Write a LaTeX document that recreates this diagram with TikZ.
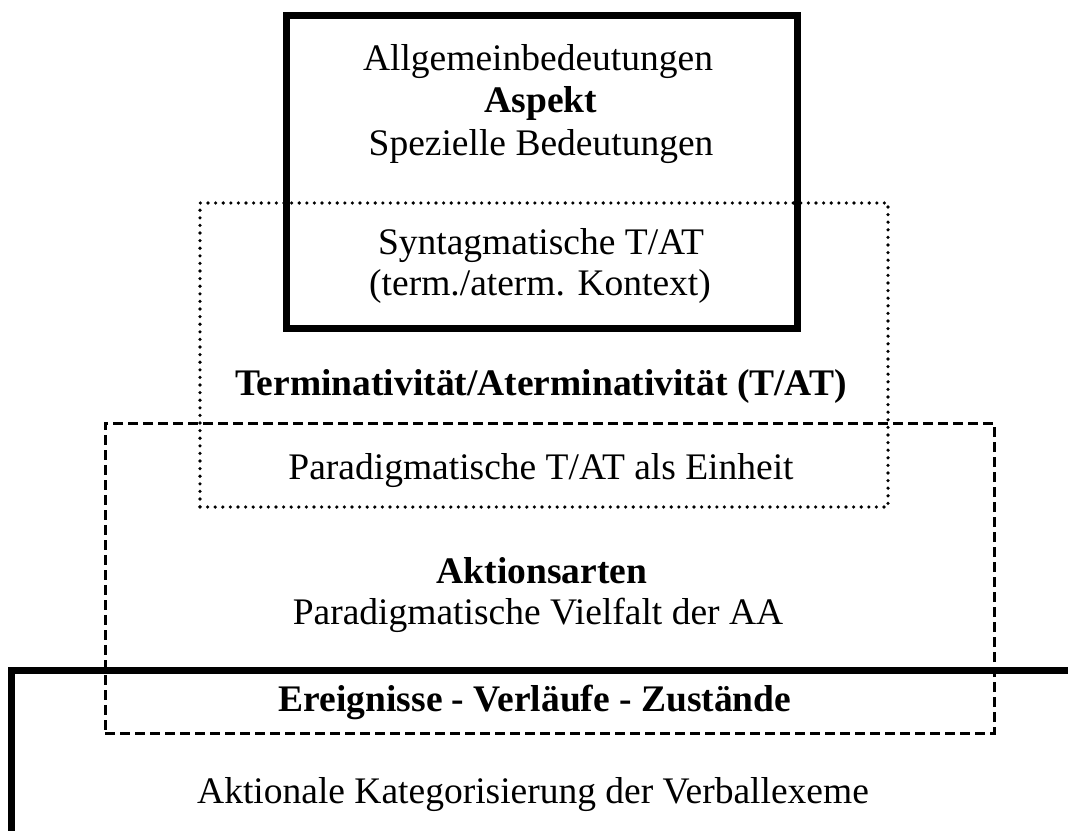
\documentclass[tikz,border=0pt]{standalone}
\usepackage{fontspec}
\setmainfont{Liberation Serif}
\begin{document}
\begin{tikzpicture}[x=1pt,y=-1pt,
  txt/.style={anchor=base,inner sep=0pt,font=\fontsize{37.5}{45}\selectfont},
  btxt/.style={txt,font=\fontsize{37.5}{45}\selectfont\bfseries},
  thickbox/.style={draw,line width=7pt,inner sep=0pt},
  dotbox/.style={draw,line width=3.6pt,line cap=round,dash pattern=on 0pt off 7.6pt,inner sep=0pt},
  dashbox/.style={draw,line width=3pt,dash pattern=on 10pt off 5pt,inner sep=0pt}]
\useasboundingbox (0,0) rectangle (1068,830);
% boxes
\node[dotbox,minimum width=688pt,minimum height=304pt] (dot) at (544,355) {};
\node[dashbox,minimum width=889pt,minimum height=310pt] (dash) at (549.5,578) {};
\node[thickbox,fill=none,minimum width=511pt,minimum height=313pt] (top) at (541.5,171.5) {};
\coordinate (bl) at (11,834);
\coordinate (bc) at (11,670);
\coordinate (br) at (1072,670);
\draw[line width=7pt,line join=miter] (bl) -- (bc) -- (br);
% texts
\node[txt] (t1) at (538,70) {Allgemeinbedeutungen};
\node[btxt] (t2) at (541,112) {Aspekt};
\node[txt] (t3) at (541,155) {Spezielle Bedeutungen};
\node[txt] (t4) at (541,254) {Syntagmatische T/AT};
\node[txt] (t5) at (540,295) {(term./aterm. Kontext)};
\node[btxt] (t6) at (541,395) {Terminativität/Aterminativität (T/AT)};
\node[txt] (t7) at (541,479) {Paradigmatische T/AT als Einheit};
\node[btxt] (t8) at (542,583) {Aktionsarten};
\node[txt] (t9) at (538,624) {Paradigmatische Vielfalt der AA};
\node[btxt] (t10) at (535,711) {Ereignisse - Verläufe - Zustände};
\node[txt] (t11) at (533,803) {Aktionale Kategorisierung der Verballexeme};
\end{tikzpicture}
\end{document}
